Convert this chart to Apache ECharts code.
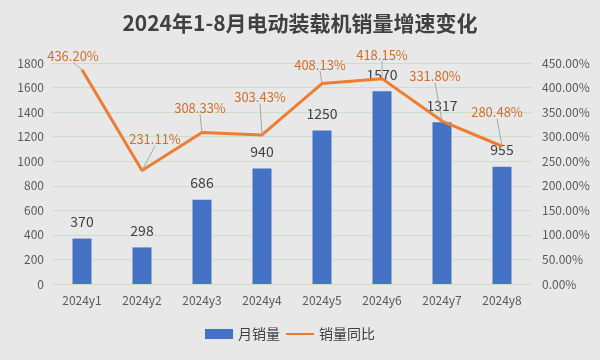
<!DOCTYPE html>
<html><head><meta charset="utf-8">
<script src="https://cdn.jsdelivr.net/npm/echarts@6/dist/echarts.min.js"></script>
<style>html,body{margin:0;padding:0;background:#e8e8e8}#c{width:600px;height:360px}</style>
</head><body><div id="c"></div>
<script>
const categories = ['2024y1','2024y2','2024y3','2024y4','2024y5','2024y6','2024y7','2024y8'];
const sales = [370, 298, 686, 940, 1250, 1570, 1317, 955];
const growth = [436.20, 231.11, 308.33, 303.43, 408.13, 418.15, 331.80, 280.48];
const leftTicks = {min: 0, max: 1800, interval: 200};
const rightTicks = {min: 0, max: 450, interval: 50};
// label displacement for growth labels (dx, dy) from the 'top' position
const growthLabelShift = [[-9,-2],[13,-19],[-2,-13],[-2,-26],[-2,-7],[0,-12],[-7,-33],[-5,-22]];

const chart = echarts.init(document.getElementById('c'));
const font = '"Microsoft YaHei","Noto Sans CJK SC",sans-serif';
chart.setOption({
  backgroundColor: '#e8e8e8',
  animation: false,
  title: {text: '2024年1-8月电动装载机销量增速变化', left: 'center', top: 8,
    textStyle: {fontFamily: font, fontSize: 21, fontWeight: 'bold', color: '#404040'}},
  grid: {left: 52, right: 68, top: 63, bottom: 76},
  legend: {bottom: 14, left: 200, itemWidth: 28, itemHeight: 10, itemGap: 6,
    textStyle: {fontFamily: font, fontSize: 14, color: '#404040'},
    data: [{name: '月销量', icon: 'rect'}, {name: '销量同比', icon: 'path://M0,4L28,4L28,6L0,6Z'}]},
  xAxis: {type: 'category', data: categories,
    axisLine: {show: false}, axisTick: {show: false},
    axisLabel: {color: '#595959', fontSize: 12, fontFamily: font, margin: 10}},
  yAxis: [
    {type: 'value', min: leftTicks.min, max: leftTicks.max, interval: leftTicks.interval,
      axisLabel: {color: '#595959', fontSize: 12, fontFamily: font, margin: 8, formatter: v => String(v)},
      splitLine: {lineStyle: {color: '#c9dfc9', width: 1}}},
    {type: 'value', min: rightTicks.min, max: rightTicks.max, interval: rightTicks.interval,
      axisLabel: {color: '#595959', fontSize: 12, fontFamily: font, margin: 10,
        formatter: v => v.toFixed(2) + '%'},
      splitLine: {show: false}}
  ],
  series: [
    {name: '月销量', type: 'bar', data: sales, barWidth: 19,
      itemStyle: {color: '#4472C4'},
      label: {show: true, position: 'top', distance: 10, color: '#404040', fontSize: 14, fontFamily: font}},
    {name: '销量同比', type: 'line', yAxisIndex: 1, data: growth,
      symbol: 'circle', symbolSize: 1, showSymbol: true,
      lineStyle: {color: '#ED7D31', width: 3}, itemStyle: {color: '#ED7D31'},
      label: {show: true, position: 'top', distance: 5, color: '#CF6E2E', fontSize: 13, fontFamily: font,
        formatter: p => p.value.toFixed(2) + '%'},
      labelLine: {show: true, lineStyle: {color: '#a6a6a6', width: 1}},
      labelLayout: p => ({dx: growthLabelShift[p.dataIndex][0], dy: growthLabelShift[p.dataIndex][1]})}
  ]
});
</script></body></html>
